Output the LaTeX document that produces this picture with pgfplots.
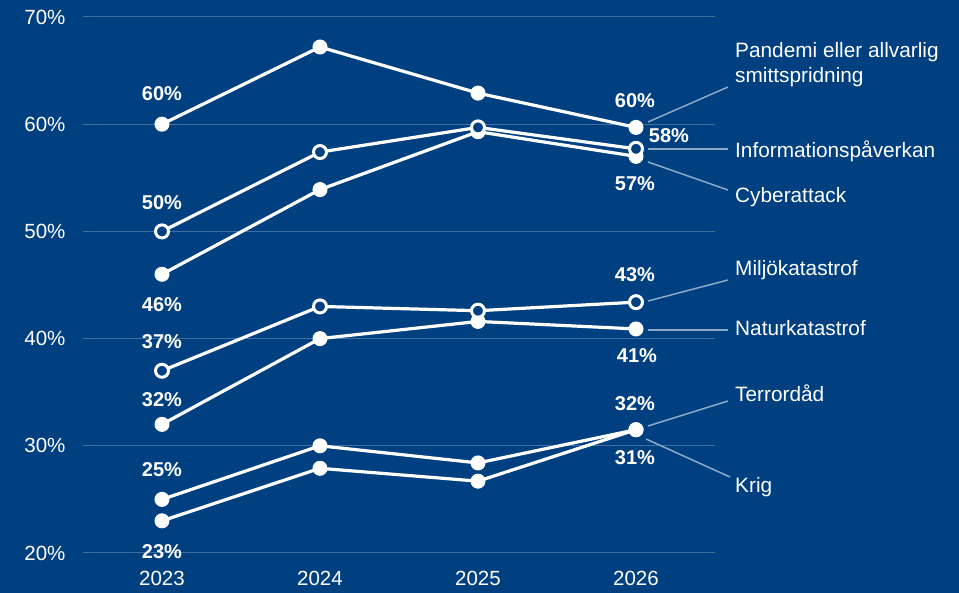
\documentclass[border=0pt]{standalone}
\usepackage{pgfplots}
\pgfplotsset{compat=1.18}
\usepackage{fontspec}
\setmainfont{Liberation Sans}
\definecolor{bg}{RGB}{0,64,128}
\colorlet{gridc}{white!25!bg}
\colorlet{leadc}{white!55!bg}
\newcommand{\lbl}{\fontsize{20}{24}\selectfont\bfseries}
\newcommand{\nm}{\fontsize{20.8}{24}\selectfont}
\begin{document}
\begin{tikzpicture}[x=1pt,y=1pt]
\fill[bg] (0,0) rectangle (959,593);
\useasboundingbox (0,0) rectangle (959,593);
\begin{axis}[
  at={(83pt,40pt)}, anchor=south west,
  scale only axis, width=632pt, height=536pt,
  xmin=2022.5, xmax=2026.5, ymin=20, ymax=70,
  axis line style={draw=none},
  major tick length=0pt,
  ymajorgrids,
  grid style={gridc, line width=1pt},
  ytick={20,30,40,50,60,70},
  xtick={2023,2024,2025,2026},
  yticklabel={\pgfmathprintnumber{\tick}\%},
  /pgf/number format/assume math mode=true,
  /pgf/number format/1000 sep={},
  tick label style={white, font=\fontsize{20.5}{24}\selectfont},
  yticklabel style={xshift=-14pt},
  xticklabel style={yshift=-15pt},
  clip=false,
  every axis plot/.append style={white, line width=3.2pt},
  fm/.style={mark=*, mark size=7pt, mark options={solid, fill=white, draw=white, line width=1pt}},
  om/.style={mark=*, mark size=6.5pt, mark options={solid, fill=bg, draw=white, line width=3pt}},
]
% Krig
\addplot[fm] coordinates {(2023,23) (2024,27.9) (2025,26.7) (2026,31.5)};
% Terrordad
\addplot[fm] coordinates {(2023,25) (2024,30) (2025,28.4) (2026,31.5)};
% Naturkatastrof
\addplot[fm] coordinates {(2023,32) (2024,40.0) (2025,41.6) (2026,40.9)};
% Miljokatastrof
\addplot[om] coordinates {(2023,37) (2024,43.0) (2025,42.6) (2026,43.4)};
% Cyberattack
\addplot[fm] coordinates {(2023,46) (2024,53.9) (2025,59.3) (2026,57.0)};
% Informationspaverkan
\addplot[om] coordinates {(2023,50) (2024,57.4) (2025,59.7) (2026,57.7)};
% Pandemi
\addplot[fm] coordinates {(2023,60) (2024,67.2) (2025,62.9) (2026,59.7)};
\end{axis}
% value labels
\begin{scope}[every node/.style={white, inner sep=0pt, anchor=base, font=\lbl}]
\node at (162,593-101) {60\%};
\node at (162,593-210) {50\%};
\node at (162,593-312) {46\%};
\node at (162,593-349) {37\%};
\node at (162,593-407) {32\%};
\node at (162,593-477) {25\%};
\node at (162,593-559) {23\%};
\node at (635,593-108) {60\%};
\node at (669,593-143) {58\%};
\node at (635,593-191) {57\%};
\node at (635,593-282) {43\%};
\node at (637,593-363) {41\%};
\node at (635,593-411) {32\%};
\node at (635,593-465) {31\%};
\end{scope}
% leader lines
\begin{scope}[leadc, line width=1.5pt]
\draw (648,593-122) -- (728,593-87);
\draw (648,593-149) -- (728,593-149);
\draw (648,593-162) -- (728,593-190);
\draw (648,593-301) -- (728,593-280);
\draw (648,593-330) -- (728,593-330);
\draw (648,593-426) -- (728,593-401);
\draw (646,593-439) -- (730,593-477);
\end{scope}
% series names
\begin{scope}[every node/.style={white, inner sep=0pt, anchor=base west, font=\nm}]
\node at (735,593-58) {Pandemi eller allvarlig};
\node at (735,593-83) {smittspridning};
\node at (735,593-158) {Informationspåverkan};
\node at (735,593-203) {Cyberattack};
\node at (735,593-276) {Miljökatastrof};
\node at (735,593-336) {Naturkatastrof};
\node at (735,593-402) {Terrordåd};
\node at (735,593-493) {Krig};
\end{scope}
\end{tikzpicture}
\end{document}
